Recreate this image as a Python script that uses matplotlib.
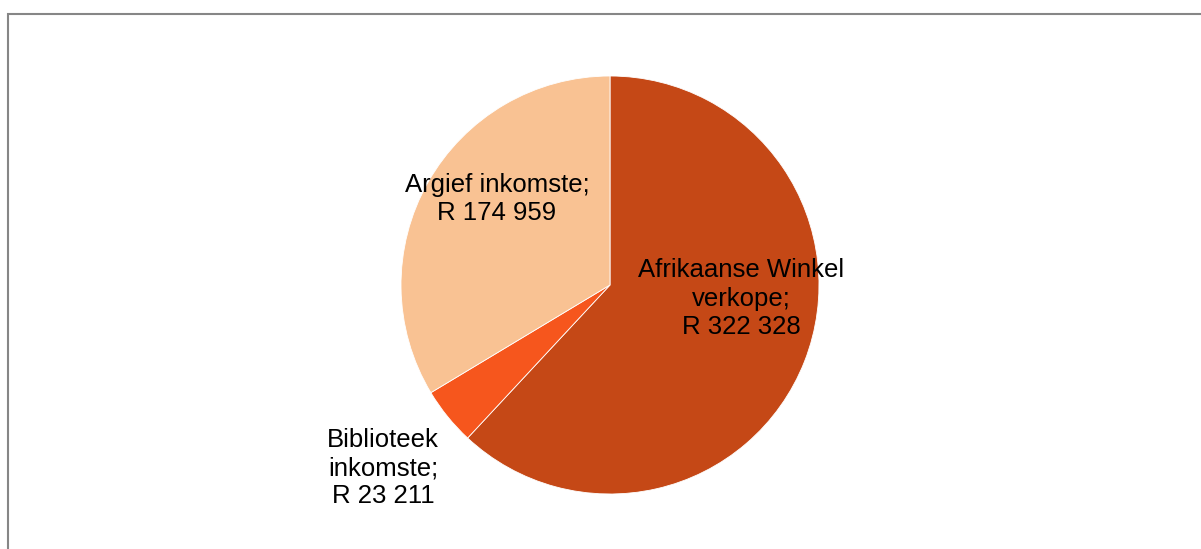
import matplotlib.pyplot as plt
from matplotlib.patches import Rectangle

# income breakdown
labels = ["Afrikaanse Winkel\nverkope;\nR 322 328",
          "Biblioteek\ninkomste;\nR 23 211",
          "Argief inkomste;\nR 174 959"]
values = [322328, 23211, 174959]
colors = ["#C54816", "#F6561D", "#F9C293"]

plt.rcParams['font.family'] = ['Liberation Sans', 'DejaVu Sans']

fig = plt.figure(figsize=(12.01, 5.49), dpi=100)
# grey frame (clipped at right/bottom like the source)
fig.patches.append(Rectangle((8 / 1201, -0.1), 1.2, 1 - 14 / 549 + 0.1,
                             transform=fig.transFigure, fill=False,
                             edgecolor="#868686", linewidth=1.5))

ax = fig.add_axes([401 / 1201, 55 / 549, 418 / 1201, 418 / 549])
wedges, _ = ax.pie(values, colors=colors, startangle=90, counterclock=False,
                   radius=1, wedgeprops=dict(linewidth=0.6, edgecolor="white"))
ax.set_xlim(-1, 1)
ax.set_ylim(-1, 1)
ax.set_aspect("equal")
ax.axis("off")

# label positions in pie coordinates
pos = [(0.627, -0.065), (-1.086, -0.876), (-0.541, 0.411)]
for lab, (x, y) in zip(labels, pos):
    ax.text(x, y, lab, ha="center", va="center", fontsize=18.5,
            linespacing=1.23, clip_on=False)

fig.savefig("out.png", dpi=100)
